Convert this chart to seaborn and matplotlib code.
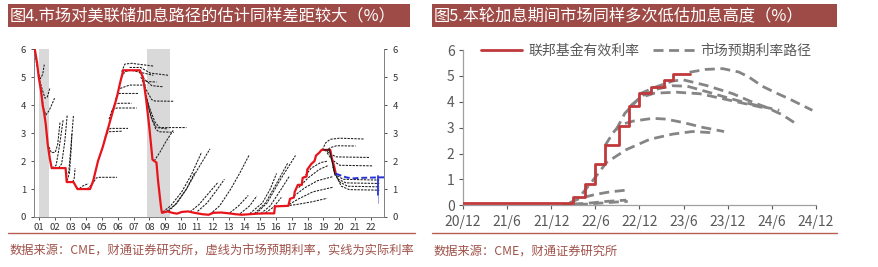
import numpy as np
import pandas as pd
import matplotlib
matplotlib.use("Agg")
import matplotlib.pyplot as plt
import seaborn as sns
from matplotlib.patches import Rectangle
from matplotlib.lines import Line2D

sns.set_theme(style="white")
plt.rcParams["font.family"] = ["Noto Sans CJK SC", "DejaVu Sans"]
plt.rcParams["axes.unicode_minus"] = False

# ---------------- data: left panel ----------------
left_title = "图4.市场对美联储加息路径的估计同样差距较大（%）"
left_source = "数据来源：CME，财通证券研究所，虚线为市场预期利率，实线为实际利率"
left_years = list(range(2001, 2023))
left_year_labels = ["%02d" % (y % 100) for y in left_years]
recess_start = [2001.17, 2008.0]
recess_end = [2001.82, 2009.47]

left_fed_x = [2000.9, 2001.05, 2001.15, 2001.3, 2001.4, 2001.5, 2001.6, 2001.72, 2001.85, 2001.97,
              2002.85, 2002.92, 2003.35, 2003.6, 2004.4, 2004.6, 2004.9, 2005.2, 2005.5, 2005.8,
              2006.1, 2006.3, 2006.5, 2007.55, 2007.75, 2007.95, 2008.15, 2008.35, 2008.6, 2008.7,
              2008.9, 2008.95, 2009.3, 2009.6, 2009.9, 2010.2, 2010.6, 2011.0, 2011.5, 2011.9,
              2012.2, 2012.7, 2013.2, 2013.6, 2014.0, 2014.5, 2015.0, 2015.5, 2016.05, 2016.1,
              2016.95, 2017.05, 2017.3, 2017.35, 2017.55, 2017.8, 2017.85, 2018.1, 2018.15, 2018.4,
              2018.6, 2018.7, 2018.9, 2019.05, 2019.6, 2019.7, 2019.85, 2019.95]
left_fed_y = [6.0, 5.5, 5.0, 4.5, 4.0, 3.7, 3.3, 2.6, 2.1, 1.75,
              1.75, 1.25, 1.25, 1.0, 1.0, 1.3, 2.0, 2.5, 3.1, 3.7,
              4.3, 4.8, 5.25, 5.25, 5.0, 4.2, 3.2, 2.05, 1.95, 1.3,
              0.3, 0.15, 0.2, 0.15, 0.12, 0.18, 0.2, 0.15, 0.1, 0.08,
              0.15, 0.16, 0.13, 0.1, 0.08, 0.1, 0.12, 0.13, 0.13, 0.38,
              0.4, 0.65, 0.7, 0.9, 1.15, 1.15, 1.4, 1.45, 1.7, 1.9,
              2.0, 2.2, 2.3, 2.4, 2.4, 2.1, 1.8, 1.55]

left_paths = [
    [(2000.95, 5.7), (2001.1, 5.2), (2001.25, 4.95), (2001.4, 5.1), (2001.5, 5.45)],
    [(2001.15, 5.0), (2001.35, 4.6), (2001.55, 4.25), (2001.7, 4.3), (2001.85, 4.6)],
    [(2001.3, 4.5), (2001.45, 3.9), (2001.6, 3.65), (2001.8, 3.8), (2002.0, 4.05), (2002.15, 4.25)],
    [(2001.8, 2.5), (2001.95, 2.3), (2002.2, 2.32), (2002.35, 2.6), (2002.5, 3.4)],
    [(2002.0, 1.75), (2002.25, 1.85), (2002.45, 2.5), (2002.7, 3.5)],
    [(2002.4, 1.75), (2002.6, 1.9), (2002.8, 2.7), (2002.95, 3.63)],
    [(2002.85, 1.5), (2003.05, 1.6), (2003.2, 2.6), (2003.35, 3.65)],
    [(2002.95, 1.3), (2003.1, 1.6), (2003.2, 2.4), (2003.25, 3.0)],
    [(2003.3, 1.25), (2003.4, 1.4), (2003.45, 1.75)],
    [(2003.55, 1.05), (2003.7, 1.0), (2003.9, 1.1), (2004.3, 1.2)],
    [(2004.2, 1.0), (2004.5, 1.15), (2004.8, 1.4), (2005.0, 1.42), (2006.1, 1.42)],
    [(2005.2, 2.5), (2005.4, 2.95), (2005.6, 3.05), (2006.4, 3.07)],
    [(2005.3, 2.7), (2005.5, 3.1), (2005.7, 3.17), (2006.8, 3.17)],
    [(2005.6, 3.5), (2005.8, 3.85), (2006.1, 3.9), (2007.35, 3.9)],
    [(2005.8, 3.8), (2005.95, 4.05), (2006.3, 4.07), (2007.03, 4.07)],
    [(2006.0, 4.2), (2006.2, 4.42), (2007.45, 4.42)],
    [(2006.3, 4.6), (2006.9, 4.72), (2008.0, 4.72)],
    [(2006.4, 5.0), (2006.6, 5.2), (2007.0, 5.25), (2008.4, 5.07)],
    [(2006.4, 5.2), (2006.6, 5.47), (2007.0, 5.5), (2008.4, 5.4)],
    [(2006.9, 5.35), (2007.6, 5.35), (2008.2, 5.15), (2009.35, 5.07)],
    [(2007.5, 5.2), (2007.8, 4.95), (2008.3, 4.7), (2009.0, 4.66)],
    [(2007.6, 5.0), (2007.85, 4.85), (2008.6, 4.83)],
    [(2007.7, 4.9), (2008.0, 4.5), (2008.3, 4.2), (2008.5, 4.15), (2009.66, 4.14)],
    [(2007.85, 4.6), (2008.1, 4.0), (2008.5, 3.4), (2008.8, 3.2), (2010.5, 3.2)],
    [(2007.9, 4.4), (2008.2, 3.7), (2008.55, 3.15), (2008.75, 3.05), (2009.7, 3.03)],
    [(2008.0, 4.2), (2008.3, 3.5), (2008.6, 3.2), (2009.3, 3.15)],
    [(2008.45, 2.0), (2008.8, 2.3), (2009.2, 2.7), (2009.66, 3.1)],
    [(2009.0, 0.18), (2009.5, 0.4), (2010.2, 0.9), (2010.8, 1.5), (2011.46, 2.32)],
    [(2009.25, 0.2), (2009.8, 0.45), (2010.5, 1.0), (2011.2, 1.7), (2011.99, 2.44)],
    [(2009.35, 0.2), (2009.9, 0.5), (2010.5, 1.0), (2011.04, 1.61)],
    [(2010.72, 0.18), (2011.3, 0.45), (2011.9, 0.85), (2012.51, 1.25)],
    [(2011.2, 0.2), (2011.8, 0.5), (2012.4, 0.95), (2012.9, 1.35)],
    [(2011.99, 0.1), (2012.6, 0.4), (2013.3, 1.0), (2013.9, 1.6), (2014.45, 2.2)],
    [(2013.25, 0.15), (2013.8, 0.4), (2014.41, 0.77)],
    [(2013.9, 0.12), (2014.5, 0.4), (2014.95, 0.75)],
    [(2014.5, 0.12), (2015.3, 0.5), (2015.8, 1.0), (2016.2, 1.56)],
    [(2014.8, 0.12), (2015.5, 0.5), (2016.2, 1.2), (2016.9, 1.92)],
    [(2014.9, 0.12), (2015.6, 0.5), (2016.4, 1.3), (2017.4, 2.2)],
    [(2015.2, 0.12), (2015.8, 0.4), (2016.5, 1.0), (2017.0, 1.45)],
    [(2015.5, 0.15), (2016.0, 0.35), (2016.5, 0.7)],
    [(2016.6, 0.38), (2017.5, 0.45), (2018.5, 0.55), (2019.4, 0.67)],
    [(2017.0, 0.45), (2017.6, 0.65), (2018.5, 0.9), (2019.8, 1.07)],
    [(2017.3, 0.75), (2018.0, 1.05), (2018.8, 1.3), (2019.8, 1.45)],
    [(2017.6, 1.05), (2018.2, 1.4), (2018.9, 1.7), (2019.5, 1.85)],
    [(2017.9, 1.4), (2018.4, 1.75), (2019.0, 1.95), (2019.45, 2.0)],
    [(2019.1, 2.4), (2019.3, 2.65), (2019.6, 2.78), (2020.2, 2.82), (2021.75, 2.79)],
    [(2019.3, 2.35), (2019.6, 2.48), (2020.0, 2.55), (2021.2, 2.54)],
    [(2019.4, 2.35), (2019.6, 2.25), (2020.0, 2.15), (2022.1, 2.13)],
    [(2019.4, 2.3), (2019.7, 2.05), (2020.2, 1.85), (2022.25, 1.83)],
    [(2019.75, 1.8), (2020.0, 1.5), (2020.4, 1.35), (2022.7, 1.32)],
    [(2019.8, 1.7), (2020.1, 1.35), (2020.6, 1.22), (2022.7, 1.2)],
    [(2019.85, 1.6), (2020.2, 1.25), (2020.7, 1.1), (2022.7, 1.08)],
    [(2019.9, 1.55), (2020.3, 1.1), (2020.8, 0.98), (2022.7, 0.96)],
]
left_actual_tail_x = [2019.2, 2019.55, 2019.75, 2019.9]
left_actual_tail_y = [2.4, 2.4, 1.9, 1.5]
blue_path_x = [2019.95, 2020.2, 2020.6, 2021.0, 2021.5, 2023.0]
blue_path_y = [1.55, 1.5, 1.42, 1.38, 1.4, 1.42]
blue_bar_x = 2022.6
blue_bar_lo, blue_bar_hi, blue_bar_tail = 0.78, 1.45, 0.5

# ---------------- data: right panel ----------------
right_title = "图5.本轮加息期间市场同样多次低估加息高度（%）"
right_source = "数据来源：CME，财通证券研究所"
right_tick_months = [0, 6, 12, 18, 24, 30, 36, 42, 48]
right_tick_labels = ["20/12", "21/6", "21/12", "22/6", "22/12", "23/6", "23/12", "24/6", "24/12"]
fed_step_month = [0, 6, 8, 15.0, 16.55, 17.9, 19.27, 21.2, 22.57, 24.0, 25.6, 27.3, 28.5, 30.8]
fed_step_level = [0.08, 0.1, 0.08, 0.33, 0.83, 1.58, 2.33, 3.08, 3.83, 4.33, 4.58, 4.83, 5.08, 5.08]
right_paths = [
    [(13.5, 0.02), (16, 0.03), (18.5, 0.08), (21, 0.13), (22.4, 0.15)],
    [(15, 0.05), (17, 0.08), (19.5, 0.15), (22.2, 0.2)],
    [(14.5, 0.1), (16, 0.28), (18, 0.42), (20, 0.52), (22.7, 0.6)],
    [(16.2, 0.45), (17.5, 0.9), (19.5, 1.65), (22.2, 2.15), (25.4, 2.55), (28.5, 2.75), (31.2, 2.85), (34.2, 2.8)],
    [(19.3, 2.3), (20.4, 2.8), (21.3, 3.1), (23.1, 3.25), (25.8, 3.36), (27.6, 3.33), (29.9, 3.2), (32.6, 3.01), (35.5, 2.85)],
    [(20.8, 2.9), (22, 3.55), (24, 4.15), (26, 4.33), (29, 4.37), (32.2, 4.31), (35.3, 4.12), (38, 3.95), (41.2, 3.75)],
    [(22.8, 3.85), (24.5, 4.25), (26.5, 4.5), (28.5, 4.62), (30.5, 4.6), (33, 4.4), (36, 4.15), (39, 3.92), (43, 3.67)],
    [(24, 4.3), (26, 4.55), (28.5, 4.8), (29.9, 4.85), (33.1, 4.63), (36.7, 4.31), (39.4, 3.98), (41.2, 3.79), (43.4, 3.5), (45.3, 3.15)],
    [(30.8, 5.14), (33, 5.25), (35.3, 5.28), (37.5, 5.15), (38.9, 4.95), (40.7, 4.6), (42.5, 4.35), (44.3, 4.12), (47.5, 3.67)],
]
legend_labels = ["联邦基金有效利率", "市场预期利率路径"]

# ---------------- layout ----------------
W, H = 879, 267
fig = plt.figure(figsize=(W / 100, H / 100), dpi=100)

def fx(px):
    return px / W

def fy(py):
    return 1 - py / H

BAR = "#9E4B47"
SRC = "#A0524A"

# title bars
for x0, x1, txt in [(8, 410, left_title), (432, 837, right_title)]:
    fig.patches.append(Rectangle((fx(x0), fy(27)), fx(x1) - fx(x0), fy(4) - fy(27),
                                 transform=fig.transFigure, facecolor=BAR, edgecolor="none"))
    fig.text(fx(x0 + 2), fy(15.5), txt, color="white", fontsize=11.7, va="center", ha="left")

# bottom separators and source
for x0, x1, txt in [(8, 415, left_source), (432, 837, right_source)]:
    fig.lines.append(Line2D([fx(x0), fx(x1)], [fy(233), fy(233)], transform=fig.transFigure,
                            color="#B85C55", lw=1.0))
    fig.text(fx(x0 + 2), fy(251), txt, color=SRC, fontsize=8.8, va="center", ha="left")

# ---------------- left axes ----------------
axL = fig.add_axes([fx(34.3), fy(217), fx(384) - fx(34.3), fy(49.3) - fy(217)])
for s, e in zip(recess_start, recess_end):
    axL.axvspan(s, e, color="#D9D9D9", lw=0, zorder=0)

for path in left_paths:
    px_, py_ = zip(*path)
    sns.lineplot(x=list(px_), y=list(py_), ax=axL, color="#1a1a1a", linewidth=0.75,
                 linestyle=(0, (2.2, 1.1)), sort=False, estimator=None, zorder=2)

sns.lineplot(x=left_fed_x, y=left_fed_y, ax=axL, color="#E8141B", linewidth=1.6,
             sort=False, estimator=None, zorder=3)
sns.lineplot(x=left_actual_tail_x, y=left_actual_tail_y, ax=axL, color="#1a1a1a", linewidth=0.9,
             sort=False, estimator=None, zorder=4)
sns.lineplot(x=blue_path_x, y=blue_path_y, ax=axL, color="#2630D6", linewidth=1.4,
             linestyle=(0, (3, 1.5)), sort=False, estimator=None, zorder=4)
axL.plot([blue_bar_x, blue_bar_x], [blue_bar_lo, blue_bar_hi], color="#2630D6", lw=1.3, zorder=4)
axL.plot([blue_bar_x, blue_bar_x], [blue_bar_tail, blue_bar_lo], color="#8890E0", lw=0.6, zorder=4)

axL.set_xlim(2000.87, 2023.0)
axL.set_ylim(0, 6)
axL.set_xticks([y + 0.16 for y in left_years])
axL.set_xticklabels(left_year_labels)
axL.set_yticks(range(0, 7))
axL.tick_params(axis="both", labelsize=6.8, colors="#333333", length=2, width=0.6, pad=2)
axL.tick_params(axis="y", left=True, right=True, labelleft=True, labelright=True, pad=4)
axL.tick_params(axis="x", bottom=True, pad=2.5)
for side in ["left", "bottom", "right"]:
    axL.spines[side].set_color("#808080")
    axL.spines[side].set_linewidth(0.7)
axL.spines["top"].set_visible(False)
axL.set_xlabel("")
axL.set_ylabel("")

# ---------------- right axes ----------------
axR = fig.add_axes([fx(463), fy(205.3), fx(816) - fx(463), fy(50) - fy(205.3)])
RED = "#C0393B"
GREY = "#858585"
for path in right_paths:
    px_, py_ = zip(*path)
    sns.lineplot(x=list(px_), y=list(py_), ax=axR, color=GREY, linewidth=2.0,
                 linestyle=(0, (3.6, 2.0)), sort=False, estimator=None, zorder=2)
sns.lineplot(x=fed_step_month, y=fed_step_level, ax=axR, color=RED, linewidth=2.0,
             drawstyle="steps-post", sort=False, estimator=None, zorder=3)

axR.set_xlim(0, 48)
axR.set_ylim(0, 6)
axR.set_xticks(right_tick_months)
axR.set_xticklabels(right_tick_labels)
axR.set_yticks(range(0, 7))
axR.tick_params(axis="both", labelsize=10, colors="#595959", length=3, width=0.8, pad=3)
axR.tick_params(axis="x", bottom=True, pad=4)
axR.tick_params(axis="y", left=True)
for side in ["left", "bottom"]:
    axR.spines[side].set_color("#A0A0A0")
    axR.spines[side].set_linewidth(0.9)
for side in ["top", "right"]:
    axR.spines[side].set_visible(False)
axR.set_xlabel("")
axR.set_ylabel("")

handles = [Line2D([], [], color=RED, lw=2.0),
           Line2D([], [], color=GREY, lw=2.0, linestyle=(0, (3.6, 2.0)))]
axR.legend(handles, legend_labels, loc="center", bbox_to_anchor=(fx(646), fy(51)),
           bbox_transform=fig.transFigure, ncol=2, frameon=False, fontsize=10,
           handlelength=3.0, handletextpad=0.4, columnspacing=1.0, labelcolor="#595959",
           borderpad=0, borderaxespad=0)

fig.savefig("out.png", dpi=100)
